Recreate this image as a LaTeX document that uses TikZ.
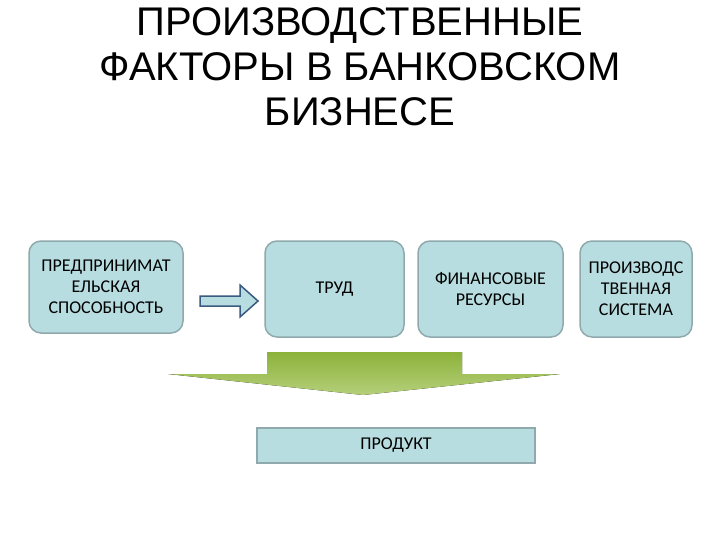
\documentclass[tikz,border=0pt]{standalone}
\usepackage{fontspec}
\setmainfont{Liberation Sans}
\newfontfamily\bodyf{Carlito}
\definecolor{boxfill}{HTML}{B8DDE0}
\definecolor{boxline}{HTML}{8FA9AD}
\definecolor{arrowline}{HTML}{3A5A80}
\definecolor{greenA}{HTML}{8CB23A}
\definecolor{greenB}{HTML}{B5CF7A}
\begin{document}
\begin{tikzpicture}[x=1pt,y=-1pt,
  fbox/.style={draw=boxline,line width=1.5pt,fill=boxfill,rounded corners=12pt,align=center,font=\bodyf\fontsize{18}{21}\selectfont},
  ptitle/.style={font=\fontsize{40}{45}\selectfont,align=center}]
\useasboundingbox (0,0) rectangle (720,540);
\node[ptitle] (title) at (360,67) {ПРОИЗВОДСТВЕННЫЕ\\ФАКТОРЫ В БАНКОВСКОМ\\БИЗНЕСЕ};
\node[fbox,minimum width=154pt,minimum height=92pt] (b1) at (106,287) {ПРЕДПРИНИМАТ\\ЕЛЬСКАЯ\\СПОСОБНОСТЬ};
\node[fbox,minimum width=139pt,minimum height=96pt] (b2) at (334.5,289) {ТРУД};
\node[fbox,minimum width=145pt,minimum height=96pt] (b3) at (490.5,289) {ФИНАНСОВЫЕ\\РЕСУРСЫ};
\node[fbox,minimum width=112pt,minimum height=96pt] (b4) at (636,289) {ПРОИЗВОДС\\ТВЕННАЯ\\СИСТЕМА};
\node[draw=boxline,line width=1.5pt,fill=boxfill,minimum width=278pt,minimum height=35pt,font=\bodyf\fontsize{18}{21}\selectfont] (prod) at (396,445.5) {ПРОДУКТ};
% small block arrow
\draw[arrowline,line width=1.5pt,fill=boxfill,line join=miter]
  (200,296) -- (240,296) -- (240,285) -- (258,301) -- (240,317) -- (240,306) -- (200,306) -- cycle;
% big green arrow
\fill[top color=greenA,bottom color=greenB]
  (267,352) -- (462,352) -- (462,374) -- (560,374) -- (363,395) -- (168,374) -- (267,374) -- cycle;
\end{tikzpicture}
\end{document}
